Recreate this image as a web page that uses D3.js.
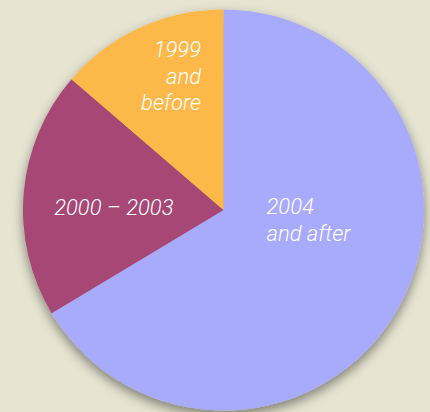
<!DOCTYPE html>
<html>
<head>
<meta charset="utf-8">
<script src="https://cdn.jsdelivr.net/npm/d3@7"></script>
<style>
  html, body { margin: 0; padding: 0; background: #e7e5d2; }
  svg { display: block; }
</style>
</head>
<body>
<script>
const categories = ["2004 and after", "2000 – 2003", "1999 and before"];
const values = [66.4, 19.9, 13.7];
const labelLines = [["2004", "and after"], ["2000 – 2003"], ["1999", "and", "before"]];
const colors = ["#a8aafc", "#a64674", "#fcb84a"];

const W = 430, H = 412;
const cx = 223.5, cy = 210, R = 200.5;

const svg = d3.select("body").append("svg").attr("width", W).attr("height", H);
svg.append("rect").attr("width", W).attr("height", H).attr("fill", "#e7e5d2");

const defs = svg.append("defs");
const f = defs.append("filter").attr("id", "shadow")
  .attr("x", "-20%").attr("y", "-20%").attr("width", "140%").attr("height", "140%");
f.append("feDropShadow").attr("dx", 0).attr("dy", 5).attr("stdDeviation", 6)
  .attr("flood-color", "#000").attr("flood-opacity", 0.45);

const data = categories.map((c, i) => ({ name: c, value: values[i], color: colors[i], lines: labelLines[i] }));
const pie = d3.pie().value(d => d.value).sort(null);
const arcs = pie(data);
const arc = d3.arc().innerRadius(0).outerRadius(R);

const g = svg.append("g").attr("transform", `translate(${cx},${cy})`);
const slices = g.append("g").attr("filter", "url(#shadow)");
slices.selectAll("path").data(arcs).enter().append("path")
  .attr("d", arc)
  .attr("fill", d => d.data.color);

// label layout (offsets from centre, anchor)
const layout = [
  { x: 43, y: 4, anchor: "start" },
  { x: -50, y: 5, anchor: "end" },
  { x: -22.5, y: -153, anchor: "end" }
];
const lineH = 26.5;
const labels = g.append("g");
arcs.forEach((a, i) => {
  const L = layout[i];
  const t = labels.append("text")
    .attr("x", L.x).attr("y", L.y)
    .attr("text-anchor", L.anchor)
    .attr("fill", "#ffffff")
    .attr("font-family", "Roboto, 'Liberation Sans', sans-serif")
    .attr("font-weight", 300)
    .attr("font-style", "italic")
    .attr("font-size", 22);
  a.data.lines.forEach((ln, j) => {
    t.append("tspan").attr("x", L.x).attr("y", L.y + j * lineH).text(ln);
  });
});
</script>
</body>
</html>
